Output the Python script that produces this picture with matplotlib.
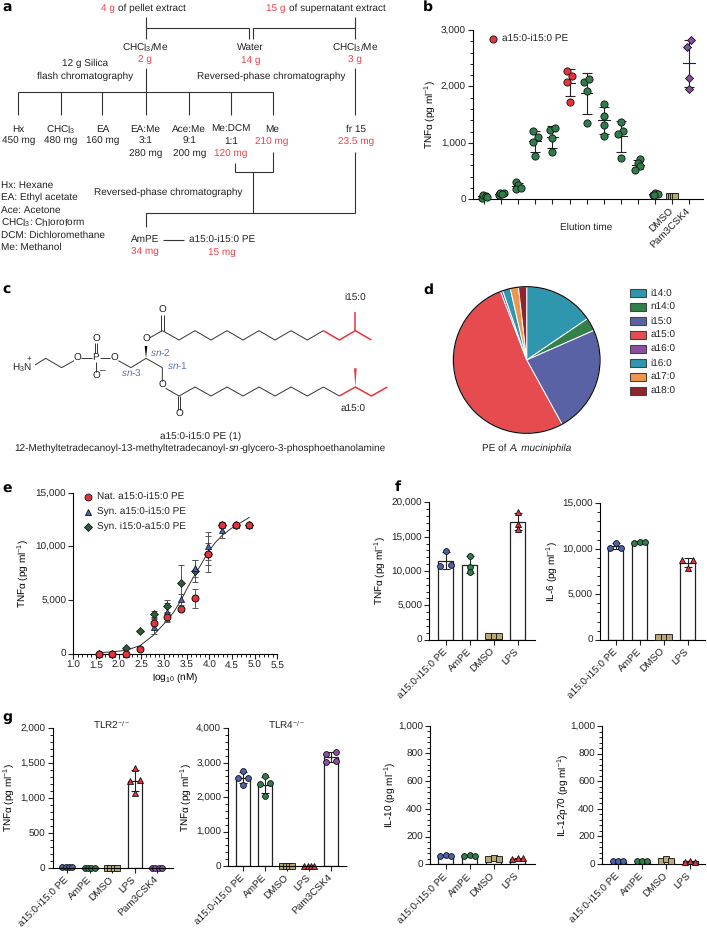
import numpy as np
import matplotlib
matplotlib.use("Agg")
import matplotlib.pyplot as plt
from matplotlib.patches import Circle, Polygon, Rectangle
from matplotlib.ticker import MultipleLocator

plt.rcParams["font.family"] = ["Liberation Sans", "DejaVu Sans"]
plt.rcParams["font.size"] = 7.5
plt.rcParams["text.hinting"] = "none"
plt.rcParams["text.hinting_factor"] = 1
plt.rcParams["mathtext.fontset"] = "custom"
plt.rcParams["mathtext.rm"] = "Liberation Sans"
plt.rcParams["mathtext.it"] = "Liberation Sans:italic"
plt.rcParams["mathtext.bf"] = "Liberation Sans:bold"
plt.rcParams["axes.linewidth"] = 0.8
plt.rcParams["text.color"] = "#222222"
plt.rcParams["xtick.color"] = "#222222"
plt.rcParams["ytick.color"] = "#222222"

W, H = 707, 931
RED = "#e5323b"
GREEN = "#2f7d4a"
BLUE = "#4a62ab"
TAN = "#b8a878"
PURPLE = "#8a4fa3"
DARK = "#2f5a3c"
TXT_RED = "#e8434b"
TNF = "TNFα (pg ml$^{-1}$)"

# panel b
elution_vals = [
    [30, 80, 50, 40],
    [70, 120, 110, 100],
    [310, 260, 190, 195],
    [1216, 1104, 1021, 773],
    [1222, 1270, 1092, 833],
    [2268, 2191, 2079, 1730],
    [2085, 2138, 1925, 1352],
    [1689, 1476, 1323, 1122],
    [1376, 1211, 1163, 732],
    [710, 640, 585, 526],
    [70, 120, 100, 80],
    [55, 55, 55, 55],
    [2817, 2699, 2150, 1961],
]
elution_off = [
    [-2.5, -1, 1.5, 2.5],
    [-2.5, -1, 2.5, 0.5],
    [-2.5, -0.5, -2.5, 2.5],
    [-2.5, 2.5, -2.5, 0],
    [-2.5, 2.5, 0, 0],
    [-2.5, 2.5, -2.5, 0],
    [-2.5, 2.5, 0, 0],
    [0, 0, 0, 0],
    [0, 2.5, -2.5, 0],
    [2.5, 0, 2.5, -2.5],
    [-2.5, 0, 2.5, -1.5],
    [-3, -1, 1, 3],
    [2, -2, 0, 0],
]
elution_col = [GREEN] * 5 + [RED] + [GREEN] * 5 + [TAN, PURPLE]
elution_mark = ["o"] * 11 + ["s", "D"]
elution_labels = [""] * 11 + ["DMSO", "Pam3CSK4"]

# panel d
pie_labels = ["i14:0", "n14:0", "i15:0", "a15:0", "a16:0", "i16:0", "a17:0", "a18:0"]
pie_vals = [15.5, 2.9, 23.6, 52.2, 0.5, 1.7, 1.8, 1.8]
pie_cols = ["#2e97ad", "#338049", "#5a62a6", "#e64b50", "#8a4fa3", "#2e97ad", "#f0964c", "#8e2430"]

# panel e
dose = [1.56, 1.86, 2.16, 2.47, 2.77, 3.07, 3.37, 3.68, 3.98, 4.28, 4.58, 4.88]
nat_mean = [0, 0, 0, 470, 2830, 3420, 4190, 5160, 9260, 12000, 12000, 12000]
nat_err = [0, 0, 0, 100, 500, 400, 200, 900, 1670, 300, 0, 0]
syn_a_mean = [0, 0, 0, 500, 2500, 3850, 5060, 7950, 10030, 11500, 12000, 12000]
syn_a_err = [0, 0, 0, 100, 700, 900, 500, 800, 1300, 700, 0, 0]
syn_i_mean = [0, 0, 500, 2100, 3690, 4440, 6600, 7700, 9300, 12000, 12000, 12000]
syn_i_err = [0, 0, 100, 100, 300, 600, 1650, 1000, 1000, 200, 0, 0]
fit_x = [1.56, 1.86, 2.16, 2.47, 2.77, 3.07, 3.22, 3.37, 3.52, 3.68, 3.83, 3.98, 4.13, 4.28, 4.43, 4.58, 4.73, 4.88]
fit_y = [90, 170, 320, 740, 1730, 3100, 3900, 4950, 6150, 7350, 8400, 9500, 10350, 11000, 11500, 11950, 12300, 12700]

# panels f and g
cats_f = ["a15:0-i15:0 PE", "AmPE", "DMSO", "LPS"]
cats_g = ["a15:0-i15:0 PE", "AmPE", "DMSO", "LPS", "Pam3CSK4"]
cols_f = [BLUE, GREEN, TAN, RED]
marks_f = ["o", "o", "s", "^"]
cols_g = [BLUE, GREEN, TAN, RED, PURPLE]
marks_g = ["o", "o", "s", "^", "o"]

tnf_f = [[12912, 10680, 10874], [12233, 10631, 9806], [560, 580, 600], [18544, 16893, 16068]]
il6_f = [[10670, 10120, 10120], [10600, 10780, 10745], [300, 300, 300], [8727, 8764, 7920]]
il10_f = [[60, 70, 60], [60, 70, 60], [41, 48, 38], [36, 43, 43]]
il12_f = [[20, 20, 20], [20, 22, 20], [25, 35, 25], [18, 25, 18]]
tlr2_g = [[10, 20, 20, 20], [5, 5, 5, 5], [5, 5, 5, 5], [1430, 1235, 1249, 1069], [0, 0, 0, 0]]
tlr4_g = [[2760, 2547, 2566, 2363], [2615, 2392, 2402, 2043], [10, 10, 10, 10], [0, 0, 0, 0], [3264, 3312, 3012, 3051]]

off_f = {
    0: [0, -5.3, 5.3],
    1: [0, 0, 0],
    2: [-5.3, 0, 5.3],
    3: [0, 0, 0],
}
off_f_wide = {i: [-5.3, 0, 5.3] for i in range(4)}
off_g = {
    0: [0, -5, 5, 0],
    1: [0, -5, 5, 0],
    2: [-5, -1.7, 1.7, 5],
    3: [-5, -1.7, 1.7, 5],
    4: [-5, 5, -5, 5],
}
off_g2 = {
    0: [-5, -1.7, 1.7, 5],
    1: [-5, -1.7, 1.7, 5],
    2: [-5, -1.7, 1.7, 5],
    3: [0, -5, 5, 0],
    4: [-5, -1.7, 1.7, 5],
}

fig = plt.figure(figsize=(W / 100, H / 100), dpi=100)


def pax(x0, ytop, x1, ybot):
    ax = fig.add_axes([x0 / W, 1 - ybot / H, (x1 - x0) / W, (ybot - ytop) / H])
    ax.patch.set_alpha(0)
    ax.spines["top"].set_visible(False)
    ax.spines["right"].set_visible(False)
    ax.tick_params(which="major", length=3.6, width=0.8, pad=1.5)
    ax.tick_params(which="minor", length=2, width=0.7)
    return ax


def bars(ax, vals, cols, marks, offs, step, yminor, ymax, ymaj, labels, barw=15):
    ax.set_xlim(-offs[0] / step, offs[1] / step)
    ax.set_ylim(0, ymax)
    ax.yaxis.set_major_locator(MultipleLocator(ymaj))
    ax.yaxis.set_minor_locator(MultipleLocator(yminor))
    ax.yaxis.set_major_formatter(lambda v, p: f"{int(v):,}")
    for i, v in enumerate(vals):
        v = np.array(v, float)
        ax.bar(i, v.mean(), width=barw / step, color="white", edgecolor="#222222", linewidth=0.9, zorder=2)
        ax.errorbar(i, v.mean(), yerr=v.std(ddof=1), color="#222222", capsize=3.2, elinewidth=0.8, capthick=0.8, zorder=3)
        ax.plot(i + np.array(labels["off"][i]) / step, v, ls="", marker=marks[i], ms=4.2, mfc=cols[i], mec="#111111",
                mew=0.6, clip_on=False, zorder=4)
    ax.set_xticks(range(len(vals)))
    ax.set_xticklabels(labels["names"], rotation=45, ha="right", va="center", rotation_mode="anchor")
    ax.tick_params(axis="x", pad=4)


# overlay in pixel coordinates for the scheme, structure, legends and letters
ov = fig.add_axes([0, 0, 1, 1], zorder=10)
ov.set_xlim(0, W)
ov.set_ylim(H, 0)
ov.axis("off")
ov.patch.set_alpha(0)
rend = fig.canvas.get_renderer()


def t(x, y, s, color=None, ha="center", **kw):
    return ov.text(x, y, s, ha=ha, va="center", color=color or "#222222", **kw)


def run(x, y, parts):
    # plain and italic pieces of one centred line, set one after the other
    items = [ov.text(x, y, s, ha="left", va="baseline", color="#222222", style=st) for s, st in parts]
    widths = [it.get_window_extent(rend).width for it in items]
    x0 = x - sum(widths) / 2
    for it, w in zip(items, widths):
        it.set_x(x0)
        x0 += w


def seg(pts, color="#333333", lw=0.8, zoom=3.0, dy=0):
    xs = [p[0] / zoom for p in pts]
    ys = [p[1] / zoom + dy for p in pts]
    ov.plot(xs, ys, color=color, lw=lw, solid_capstyle="butt", solid_joinstyle="miter")


# panel letters
for letter, x, y in [("a", 2, 8), ("b", 423, 7), ("c", 2, 290), ("d", 423, 290), ("e", 2, 489), ("f", 395, 487), ("g", 2, 717)]:
    t(x, y, letter, ha="left", fontweight="bold", fontsize=10, color="black", family="DejaVu Sans")

# panel a, the fractionation scheme (zoom coordinates / 3)
scheme_lines = [
    [(437, 52), (437, 118)],
    [(437, 85), (748, 85), (748, 118)],
    [(760, 118), (760, 85), (1066, 85)],
    [(1066, 52), (1066, 118)],
    [(437, 205), (437, 345)],
    [(53, 345), (53, 275), (820, 275), (820, 345)],
    [(183, 275), (183, 345)],
    [(307, 275), (307, 345)],
    [(568, 275), (568, 345)],
    [(694, 275), (694, 345)],
    [(1066, 205), (1066, 345)],
    [(706, 488), (706, 515), (820, 515), (820, 455)],
    [(760, 515), (760, 640)],
    [(437, 680), (437, 640), (1066, 640), (1066, 455)],
    [(490, 720), (552, 720)],
]
for pts in scheme_lines:
    seg(pts)

CHCL = "CHCl$_{3}$"
scheme_text = [
    (436, 142, CHCL + "/Me", None), (436, 182, "2 g", TXT_RED),
    (752, 142, "Water", None), (752, 182, "14 g", TXT_RED),
    (1066, 142, CHCL + "/Me", None), (1066, 182, "3 g", TXT_RED),
    (255, 190, "12 g Silica", None), (254, 228, "flash chromatography", None),
    (813, 229, "Reversed-phase chromatography", None),
    (56, 388, "Hx", None), (56, 425, "450 mg", None),
    (183, 388, CHCL, None), (183, 425, "480 mg", None),
    (308, 388, "EA", None), (308, 425, "160 mg", None),
    (436, 388, "EA:Me", None), (436, 425, "3:1", None), (436, 463, "280 mg", None),
    (568, 388, "Ace:Me", None), (568, 425, "9:1", None), (568, 463, "200 mg", None),
    (693, 388, "Me:DCM", None), (693, 425, "1:1", None), (693, 463, "120 mg", TXT_RED),
    (815, 388, "Me", None), (815, 427, "210 mg", TXT_RED),
    (1068, 388, "fr 15", None), (1068, 427, "23.5 mg", TXT_RED),
    (505, 577, "Reversed-phase chromatography", None),
    (436, 719, "AmPE", None), (436, 757, "34 mg", TXT_RED),
    (667, 719, "a15:0-i15:0 PE", None), (667, 757, "15 mg", TXT_RED),
]
for x, y, s, c in scheme_text:
    t(x / 3, y / 3, s, c)
t(100.7, 8.7, "4 g", TXT_RED, ha="left")
t(118, 8.7, "of pellet extract", ha="left")
t(265.7, 8.7, "15 g", TXT_RED, ha="left")
t(288.7, 8.7, "of supernatant extract", ha="left")
abbrev = ["Hx: Hexane", "EA: Ethyl acetate", "Ace: Acetone", CHCL + ": Chloroform", "DCM: Dichloromethane", "Me: Methanol"]
for i, s in enumerate(abbrev):
    t(1, 185.3 + i * 12.5, s, ha="left")

# panel c, the structure (zoom coordinates / 3, offset 270)
C_DY = 270
black_bonds = [
    [(487, 182), (537, 210), (585, 182), (633, 210), (681, 182), (729, 210), (777, 182), (825, 210), (873, 182), (922, 210), (970, 182)],
    [(497, 355), (537, 378), (585, 351), (633, 378), (681, 351), (729, 378), (777, 351), (825, 378), (873, 351), (922, 378), (970, 351), (1018, 378)],
    [(483, 182), (483, 135)], [(491, 182), (491, 135)],
    [(487, 182), (450, 203)],
    [(393, 293), (438, 265), (487, 293), (487, 335)],
    [(533, 378), (533, 420)], [(541, 378), (541, 420)],
    [(393, 293), (355, 272)],
    [(331, 265), (300, 265)],
    [(284, 250), (284, 220)], [(292, 250), (292, 220)],
    [(288, 276), (288, 305)],
    [(276, 265), (243, 265)],
    [(222, 272), (185, 293), (137, 265), (105, 285)],
]
for pts in black_bonds:
    seg(pts, color="#333333", lw=0.7, dy=C_DY)
red_bonds = [
    [(970, 182), (1018, 210), (1066, 182), (1114, 210)],
    [(1066, 182), (1066, 127)],
    [(1018, 378), (1066, 351), (1114, 378), (1162, 351)],
]
for pts in red_bonds:
    seg(pts, color="#e8343c", lw=1.1, dy=C_DY)
ov.add_patch(Polygon([(438 / 3, 265 / 3 + C_DY), (434 / 3, 228 / 3 + C_DY), (442 / 3, 228 / 3 + C_DY)], fc="black", ec="none"))
ov.add_patch(Polygon([(1066 / 3, 351 / 3 + C_DY), (1062 / 3, 295 / 3 + C_DY), (1070 / 3, 295 / 3 + C_DY)], fc="#e8343c", ec="none"))
atoms = [(487, 122, "O"), (438, 207, "O"), (487, 347, "O"), (537, 433, "O"), (343, 265, "O"), (288, 263, "P"),
         (288, 207, "O"), (288, 320, "O"), (232, 265, "O"), (308, 303, "–")]
for x, y, s in atoms:
    t(x / 3, y / 3 + C_DY, s, fontsize=7.3)
t(66 / 3, 293 / 3 + C_DY, "H$_{3}$N", fontsize=7.3)
t(88 / 3, 265 / 3 + C_DY, "+", fontsize=6)
SN = "#5a72b8"
t(482 / 3, 250 / 3 + C_DY, "$\\mathit{sn}$-2", SN)
t(533 / 3, 287 / 3 + C_DY, "$\\mathit{sn}$-1", SN)
t(396 / 3, 309 / 3 + C_DY, "$\\mathit{sn}$-3", SN)
t(1066 / 3, 82 / 3 + C_DY, "i15:0")
t(1060 / 3, 417 / 3 + C_DY, "a15:0")
t(602 / 3, 498 / 3 + C_DY, "a15:0-i15:0 PE (1)")
run(200, 451, [("12-Methyltetradecanoyl-13-methyltetradecanoyl-", "normal"), ("sn", "italic"),
               ("-glycero-3-phosphoethanolamine", "normal")])

# panel b
ax = pax(473, 30, 703, 199.3)
step_b = 17.1
ax.set_xlim(1 - 11 / step_b, 1 + 219 / step_b)
ax.set_ylim(0, 3000)
ax.yaxis.set_major_locator(MultipleLocator(1000))
ax.yaxis.set_minor_locator(MultipleLocator(200))
ax.yaxis.set_major_formatter(lambda v, p: f"{int(v):,}")
for i, v in enumerate(elution_vals):
    v = np.array(v, float)
    x = i + 1
    if i < 11 or i == 12:
        ax.errorbar(x, v.mean(), yerr=v.std(ddof=1), color="#222222", capsize=3.4, elinewidth=0.8, capthick=0.8, zorder=2)
        ax.plot([x - 0.34, x + 0.34], [v.mean(), v.mean()], color="#222222", lw=0.8, zorder=2)
    ms = 5.2 if elution_mark[i] == "o" else (4.0 if elution_mark[i] == "D" else 3.8)
    ax.plot(x + np.array(elution_off[i]) / step_b, v, ls="", marker=elution_mark[i], ms=ms, mfc=elution_col[i],
            mec="#111111", mew=0.6, clip_on=False, zorder=3)
ax.set_xticks(range(1, 14))
ax.set_xticklabels(elution_labels, rotation=45, ha="right", va="center", rotation_mode="anchor")
ax.tick_params(axis="x", pad=4)
ax.set_ylabel(TNF, labelpad=2)
ax.yaxis.set_label_coords((437 - 473) / 230, 0.5)
t(586, 227, "Elution time")
ov.plot([492.7], [38.7], ls="", marker="o", ms=5.2, mfc=RED, mec="#111111", mew=0.6)
t(502, 38.7, "a15:0-i15:0 PE", ha="left")

# panel d
ax = pax(526.7 - 73.3, 360 - 73.3, 526.7 + 73.3, 360 + 73.3)
ax.axis("off")
ax.pie(pie_vals, colors=pie_cols, startangle=90, counterclock=False, radius=1,
       wedgeprops=dict(edgecolor="white", linewidth=0.7))
ax.add_patch(Circle((0, 0), 1, fc="none", ec="#111111", lw=0.9, clip_on=False))
ax.set_xlim(-1, 1)
ax.set_ylim(-1, 1)
ax.set_aspect("equal")
run(526.7, 451.3, [("PE of ", "normal"), ("A. muciniphila", "italic")])
for i, (lab, col) in enumerate(zip(pie_labels, pie_cols)):
    y = 293 + i * 14
    ov.add_patch(Rectangle((630, y - 4), 15.7, 8, fc=col, ec="#444444", lw=0.8))
    t(650.7, y, lab, ha="left")

# panel e
ax = pax(73.3, 492.7, 277.3, 653.7)
ax.set_xlim(1, 5.5)
ax.set_ylim(0, 15000)
ax.xaxis.set_major_locator(MultipleLocator(0.5))
ax.xaxis.set_minor_locator(MultipleLocator(0.1))
ax.yaxis.set_major_locator(MultipleLocator(5000))
ax.xaxis.set_major_formatter(lambda v, p: f"{v:.1f}")
ax.yaxis.set_major_formatter(lambda v, p: f"{int(v):,}")
ax.plot(fit_x, fit_y, color="#333333", lw=0.7, zorder=2)
ax.errorbar(dose, syn_i_mean, yerr=syn_i_err, ls="", color="#555555", capsize=2.4, elinewidth=0.7, capthick=0.7, zorder=3)
ax.errorbar(dose, syn_a_mean, yerr=syn_a_err, ls="", color="#555555", capsize=2.4, elinewidth=0.7, capthick=0.7, zorder=3)
ax.errorbar(dose, nat_mean, yerr=nat_err, ls="", color="#555555", capsize=2.4, elinewidth=0.7, capthick=0.7, zorder=3)
ax.plot(dose, syn_i_mean, ls="", marker="D", ms=3.6, mfc=DARK, mec="#111111", mew=0.5, clip_on=False, zorder=4)
ax.plot(dose, syn_a_mean, ls="", marker="^", ms=4.8, mfc=BLUE, mec="#111111", mew=0.5, clip_on=False, zorder=5)
ax.plot(dose, nat_mean, ls="", marker="o", ms=5, mfc=RED, mec="#111111", mew=0.7, clip_on=False, zorder=6)
ax.set_xlabel("log$_{10}$ (nM)", labelpad=1)
ax.set_ylabel(TNF)
ax.yaxis.set_label_coords((30 - 73.3) / 204, 0.5)
legend_e = [("o", RED, "Nat. a15:0-i15:0 PE", 5), ("^", BLUE, "Syn. a15:0-i15:0 PE", 4.8), ("D", DARK, "Syn. i15:0-a15:0 PE", 3.6)]
for i, (m, c, s, ms) in enumerate(legend_e):
    ov.plot([88], [496.7 + i * 15], ls="", marker=m, ms=ms, mfc=c, mec="#111111", mew=0.6)
    t(96.7, 496.7 + i * 15, s, ha="left")

# panel f
f_names = {"names": cats_f, "off": off_f}
ax = pax(429.3, 502.3, 535, 639.7)
bars(ax, tnf_f, cols_f, marks_f, (16.4, 89.3), 24, 1000, 20000, 5000, f_names)
ax.set_ylabel(TNF)
ax.yaxis.set_label_coords((387 - 429.3) / 105.7, 0.5)

f_names = {"names": cats_f, "off": {0: [0, -5.3, 5.3], 1: [-5.3, 0, 5.3], 2: [-5.3, 0, 5.3], 3: [-5.3, 5.3, 0]}}
ax = pax(600, 503.3, 705, 639.7)
bars(ax, il6_f, cols_f, marks_f, (15.7, 89.3), 24, 1000, 15000, 5000, f_names)
ax.set_ylabel("IL-6 (pg ml$^{-1}$)")
ax.yaxis.set_label_coords((559 - 600) / 105, 0.5)

f_names = {"names": cats_f, "off": off_f_wide}
ax = pax(430, 725.7, 535, 864.3)
bars(ax, il10_f, cols_f, marks_f, (15.7, 89.3), 24, 40, 1000, 200, f_names)
ax.set_ylabel("IL-10 (pg ml$^{-1}$)")
ax.yaxis.set_label_coords((397 - 430) / 105, 0.5)

ax = pax(602, 726, 705, 864)
bars(ax, il12_f, cols_f, marks_f, (16, 87), 24, 40, 1000, 200, f_names)
ax.set_ylabel("IL-12p70 (pg ml$^{-1}$)")
ax.yaxis.set_label_coords((570 - 602) / 103, 0.5)

# panel g
ax = pax(52.7, 727.7, 173, 868)
bars(ax, tlr2_g, cols_g, marks_g, (14.6, 105.7), 22.4, 100, 2000, 500, {"names": cats_g, "off": off_g2}, barw=14)
ax.set_ylabel(TNF)
ax.yaxis.set_label_coords((16 - 52.7) / 120.3, 0.5)
ax.spines["bottom"].set_linestyle((0, (1.5, 1)))
ax.spines["bottom"].set_zorder(6)
t(111.7, 725, "TLR2$^{-/-}$")

ax = pax(228.3, 728.3, 346.7, 866)
bars(ax, tlr4_g, cols_g, marks_g, (14.7, 103.7), 22.1, 200, 4000, 1000, {"names": cats_g, "off": off_g}, barw=14)
ax.set_ylabel(TNF)
ax.yaxis.set_label_coords((193 - 228.3) / 118.4, 0.5)
ax.spines["bottom"].set_linestyle((0, (1.5, 1)))
ax.spines["bottom"].set_zorder(6)
t(286.7, 724.3, "TLR4$^{-/-}$")

fig.savefig("out.png", dpi=100)
